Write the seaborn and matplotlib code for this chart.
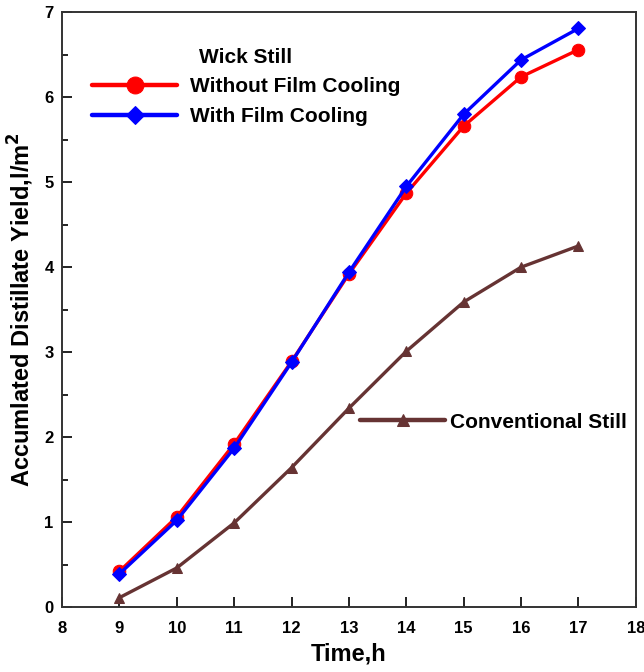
import matplotlib
matplotlib.use("Agg")
import matplotlib.pyplot as plt
from matplotlib.ticker import MultipleLocator
import seaborn as sns
import pandas as pd

# Hourly accumulated distillate yield (l/m^2)
hours = [9, 10, 11, 12, 13, 14, 15, 16, 17]
wick_without_cooling = [0.42, 1.06, 1.92, 2.89, 3.92, 4.87, 5.66, 6.24, 6.56]
wick_with_cooling = [0.39, 1.02, 1.87, 2.88, 3.94, 4.95, 5.80, 6.44, 6.81]
conventional = [0.11, 0.46, 0.99, 1.64, 2.34, 3.01, 3.59, 4.00, 4.25]

x_ticks = list(range(8, 19))
y_ticks = list(range(0, 8))

sns.set_theme(style="white")
plt.rcParams["font.family"] = ["Liberation Sans", "DejaVu Sans"]
plt.rcParams["font.weight"] = "bold"
for key in ("text.color", "axes.labelcolor", "xtick.color", "ytick.color"):
    plt.rcParams[key] = "black"

fig = plt.figure(figsize=(6.44, 6.72), dpi=100)
ax = fig.add_axes([0.0963, 0.0967, 0.891, 0.885])

df = pd.DataFrame({"Time": hours,
                   "without": wick_without_cooling,
                   "with": wick_with_cooling,
                   "conv": conventional})

RED = "#ff0000"
BLUE = "#0000ff"
BROWN = "#663333"

sns.lineplot(data=df, x="Time", y="without", ax=ax, color=RED, lw=2.4,
             marker="o", markersize=9, markeredgecolor=RED,
             label="Without Film Cooling")
sns.lineplot(data=df, x="Time", y="with", ax=ax, color=BLUE, lw=2.4,
             marker="D", markersize=7, markeredgecolor=BLUE,
             label="With Film Cooling")
sns.lineplot(data=df, x="Time", y="conv", ax=ax, color=BROWN, lw=2.4,
             marker="^", markersize=7, markeredgecolor=BROWN,
             label="Conventional Still")

ax.set_xlim(8, 18)
ax.set_ylim(0, 7)
ax.set_xticks(x_ticks)
ax.set_yticks(y_ticks)
ax.yaxis.set_minor_locator(MultipleLocator(0.5))
ax.tick_params(axis="both", which="major", direction="in", length=7,
               width=1.4, color="#222222", labelsize=12,
               bottom=True, left=True)
ax.tick_params(axis="x", which="major", pad=10)
ax.tick_params(axis="y", which="major", pad=6)
ax.tick_params(axis="y", which="minor", direction="in", length=4.5,
               width=1.4, color="#222222", left=True)
for lbl in ax.get_xticklabels() + ax.get_yticklabels():
    lbl.set_fontweight("bold")

for sp in ax.spines.values():
    sp.set_color("#333333")
    sp.set_linewidth(1.4)

ax.set_xlabel("Time,h", fontsize=17, fontweight="bold", labelpad=5)
ax.set_ylabel("Accumlated Distillate Yield,l/m$^\\mathbf{2}$", fontsize=17,
              fontweight="bold", labelpad=6)

handles, labels = ax.get_legend_handles_labels()
ax.get_legend().remove()

leg1 = ax.legend(handles[:2], labels[:2], title="Wick Still",
                 loc="upper left", bbox_to_anchor=(0.052, 0.94),
                 borderaxespad=0, borderpad=0,
                 frameon=False, fontsize=15, title_fontsize=15,
                 handlelength=4.1, markerscale=1.35, labelspacing=0.5,
                 handletextpad=0.6)
leg1.get_title().set_fontweight("bold")
for t in leg1.get_texts():
    t.set_fontweight("bold")
for ln in leg1.get_lines():
    ln.set_linewidth(3.2)
ax.add_artist(leg1)

leg2 = ax.legend(handles[2:], labels[2:], loc="center left",
                 bbox_to_anchor=(0.519, 0.311), borderaxespad=0,
                 borderpad=0, frameon=False, fontsize=15,
                 handlelength=4.1, markerscale=1.3, handletextpad=0.25)
for t in leg2.get_texts():
    t.set_fontweight("bold")
for ln in leg2.get_lines():
    ln.set_linewidth(3.2)

fig.savefig("out.png", dpi=100)
